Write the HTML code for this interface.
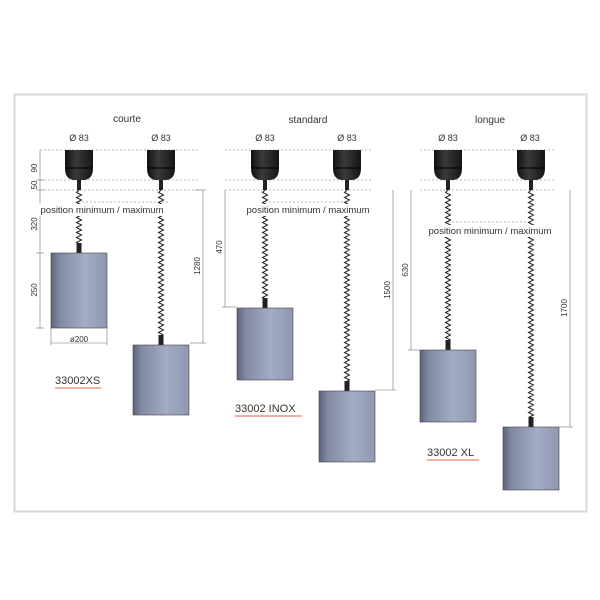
<!DOCTYPE html>
<html><head><meta charset="utf-8"><style>
html,body{margin:0;padding:0;background:#fff;width:600px;height:600px;overflow:hidden}
svg text{font-family:"Liberation Sans",sans-serif;fill:#333}
</style></head><body>
<svg id="s" width="600" height="600" xmlns="http://www.w3.org/2000/svg">
<defs>
<linearGradient id="cyl" x1="0" x2="1" y1="0" y2="0">
<stop offset="0" stop-color="#5d6478"/><stop offset="0.15" stop-color="#8189a3"/><stop offset="0.6" stop-color="#a3abc6"/><stop offset="1" stop-color="#8e96b0"/>
</linearGradient>
<linearGradient id="can" x1="0" x2="1"><stop offset="0" stop-color="#111"/><stop offset="0.4" stop-color="#3a3a3a"/><stop offset="1" stop-color="#151515"/></linearGradient>
</defs>
<rect x="14.5" y="94.5" width="572" height="417" fill="#fff" stroke="#d8d8d8" stroke-width="2"/>
<g id="g"></g>
<g fill="#fff"><rect x="35" y="204" width="136" height="12"/><rect x="240" y="204" width="137" height="12"/><rect x="422" y="225" width="138" height="12"/></g>
<g font-size="10" text-anchor="middle">
<text x="127" y="122">courte</text><text x="308" y="123">standard</text><text x="490" y="123">longue</text>
<g font-size="9"><text x="79" y="141">Ø 83</text><text x="161" y="141">Ø 83</text><text x="265" y="141">Ø 83</text><text x="347" y="141">Ø 83</text><text x="448" y="141">Ø 83</text><text x="530" y="141">Ø 83</text></g>
<g font-size="9.5"><text x="102" y="213">position minimum / maximum</text><text x="308" y="213">position minimum / maximum</text><text x="490" y="234">position minimum / maximum</text></g>
<g font-size="8"><text x="79" y="342">ø200</text></g>
</g>
<g font-size="11" fill="#333">
<text x="55" y="384">33002XS</text><text x="235" y="412">33002 INOX</text><text x="427" y="456">33002 XL</text>
</g>
<g stroke="#e0603a" stroke-width="1"><line x1="55" y1="388" x2="101" y2="388"/><line x1="235" y1="416" x2="302" y2="416"/><line x1="427" y1="460" x2="479" y2="460"/></g>
<g font-size="8" text-anchor="middle">
<text transform="translate(37,168) rotate(-90)">90</text>
<text transform="translate(37,185) rotate(-90)">50</text>
<text transform="translate(37,224) rotate(-90)">320</text>
<text transform="translate(37,290) rotate(-90)">250</text>
<text transform="translate(200,266) rotate(-90)">1280</text>
<text transform="translate(222,247) rotate(-90)">470</text>
<text transform="translate(390,290) rotate(-90)">1500</text>
<text transform="translate(408,270) rotate(-90)">630</text>
<text transform="translate(567,308) rotate(-90)">1700</text>
</g>
</svg>
<script>
var g=document.getElementById('g'),h='';
function L(x1,y1,x2,y2,d){h+='<line x1="'+x1+'" y1="'+y1+'" x2="'+x2+'" y2="'+y2+'" stroke="#777" stroke-width="0.6"'+(d?' stroke-dasharray="2,2"':'')+'/>';}
function lamp(cx,cy,cb){
 h+='<path d="M'+(cx-14)+',150 h28 v18 q0,12 -10,12 h-8 q-10,0 -10,-12z" fill="url(#can)"/>';
 h+='<line x1="'+(cx-13)+'" y1="168" x2="'+(cx+13)+'" y2="168" stroke="#000" stroke-width="1"/>';
 h+='<rect x="'+(cx-2)+'" y="180" width="4" height="10" fill="#222"/>';
 var p='M'+cx+',190';for(var y=190,i=0;y<cy-10;y+=2.5,i++){p+=' L'+(cx+(i%2?2.5:-2.5))+','+(y+2.5);}
 h+='<path d="'+p+'" fill="none" stroke="#222" stroke-width="1"/>';
 h+='<rect x="'+(cx-2.5)+'" y="'+(cy-10)+'" width="5" height="10" fill="#222"/>';
 h+='<rect x="'+(cx-28)+'" y="'+cy+'" width="56" height="'+(cb-cy)+'" fill="url(#cyl)" stroke="#444" stroke-width="0.6"/>';
}
[[40,190],[225,365],[420,548]].forEach(function(r){L(r[0],150,r[1]+8,150,1);L(r[0],180,r[1]+8,180,1);L(r[0],190,r[1]+8,190,1);});
L(78,202,170,202,1);L(265,202,347,202,1);L(448,222,530,222,1);
lamp(79,253,328);lamp(161,345,415);lamp(265,308,380);lamp(347,391,462);lamp(448,350,422);lamp(531,427,490);
L(40,150,40,328);L(36,180,44,180);L(36,190,44,190);L(36,253,44,253);L(36,328,44,328);
L(51,328,51,345);L(107,328,107,345);L(51,343,107,343);
L(203,190,203,343);L(190,343,206,343);L(195,190,206,190);
L(225,190,225,307);L(222,307,237,307);
L(393,190,393,390);L(375,390,396,390);
L(411,190,411,350);L(408,350,420,350);
L(570,190,570,427);L(559,427,573,427);
g.innerHTML=h;
</script>
</body></html>
